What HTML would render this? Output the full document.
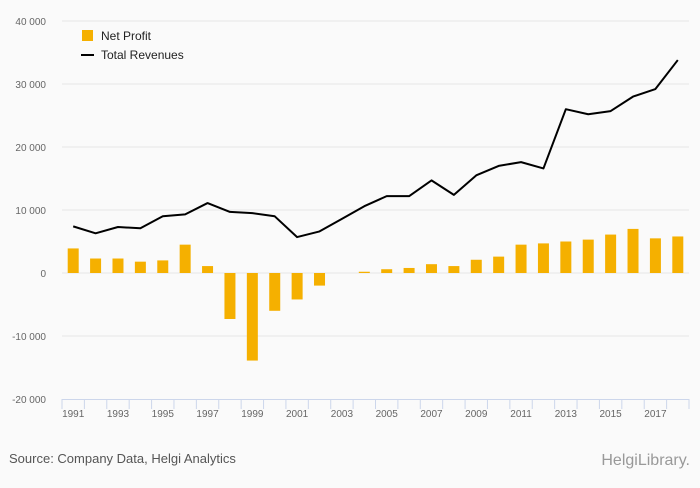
<!DOCTYPE html>
<html><head><meta charset="utf-8"><style>
body{margin:0;background:#fafafa;font-family:"Liberation Sans",sans-serif;}
#wrap{position:relative;width:700px;height:483px;}
svg text{font-family:"Liberation Sans",sans-serif;}
</style></head><body>
<div id="wrap">
<svg id="chart" width="700" height="483"></svg>
</div>
<script>
const years = [1991,1992,1993,1994,1995,1996,1997,1998,1999,2000,2001,2002,2003,2004,2005,2006,2007,2008,2009,2010,2011,2012,2013,2014,2015,2016,2017,2018];
const netProfit = [3900,2300,2300,1800,2000,4500,1100,-7300,-13900,-6000,-4200,-2000,0,200,600,800,1400,1100,2100,2600,4500,4700,5000,5300,6100,7000,5500,5800];
const revenues = [7400,6300,7300,7100,9000,9300,11100,9700,9500,9000,5700,6600,8600,10600,12200,12200,14700,12400,15500,17000,17600,16600,26000,25200,25700,28000,29200,33800];
const yTicks = [-20000,-10000,0,10000,20000,30000,40000];
const yTickLabels = ["-20 000","-10 000","0","10 000","20 000","30 000","40 000"];

const NS="http://www.w3.org/2000/svg";
const svg=document.getElementById('chart');
const x0=62,x1=689,yTop=21,yBot=399,vMin=-20000,vMax=40000;
const bw=(x1-x0)/years.length;
function y(v){return yBot-(v-vMin)/(vMax-vMin)*(yBot-yTop);}
function xc(i){return x0+bw*(i+0.5);}
function mk(t,a){const e=document.createElementNS(NS,t);for(const k in a)e.setAttribute(k,a[k]);svg.appendChild(e);return e;}

yTicks.forEach((v,i)=>{
  if(v!==vMin){const g=mk('line',{x1:x0,x2:x1,y1:y(v),y2:y(v),stroke:'#e6e6e6','stroke-width':1});
  
  }
  const t=mk('text',{x:46,y:y(v)+4,'text-anchor':'end','font-size':10,fill:'#666'});
  t.textContent=yTickLabels[i];
  
  
});
const ax=mk('line',{x1:x0,x2:x1,y1:yBot+0.5,y2:yBot+0.5,stroke:'#ccd6eb'});


for(let i=0;i<=years.length;i++){
  const tk=mk('line',{x1:x0+bw*i,x2:x0+bw*i,y1:yBot,y2:yBot+10,stroke:'#ccd6eb'});
  
  
}
years.forEach((yr,i)=>{
  if(i%2===0){const t=mk('text',{x:xc(i),y:yBot+18,'text-anchor':'middle','font-size':10,fill:'#666'});
  t.textContent=yr;
  
  }
});
netProfit.forEach((v,i)=>{
  const top=Math.min(y(v),y(0)),h=Math.abs(y(v)-y(0));
  const r=mk('rect',{x:xc(i)-5.5,y:top,width:11,height:h,fill:'#f5b000'});
  
  
});
const p=mk('polyline',{points:revenues.map((v,i)=>xc(i)+','+y(v)).join(' '),fill:'none',stroke:'#000','stroke-width':2,'stroke-linejoin':'round'});



const l1=mk('rect',{x:82,y:30,width:11,height:11,fill:'#f5b000'});


const lt1=mk('text',{x:101,y:40,'font-size':12,fill:'#222'});lt1.textContent='Net Profit';


const l2=mk('line',{x1:81,x2:94,y1:55,y2:55,stroke:'#000','stroke-width':2});


const lt2=mk('text',{x:101,y:59,'font-size':12,fill:'#222'});lt2.textContent='Total Revenues';



const src=mk('text',{x:9,y:463,'font-size':13,fill:'#555'});src.textContent='Source: Company Data, Helgi Analytics';


const logo=mk('text',{x:690,y:465,'text-anchor':'end','font-size':16,fill:'#999','font-family':'Liberation Serif'});logo.textContent='HelgiLibrary.';


</script>
</body></html>
